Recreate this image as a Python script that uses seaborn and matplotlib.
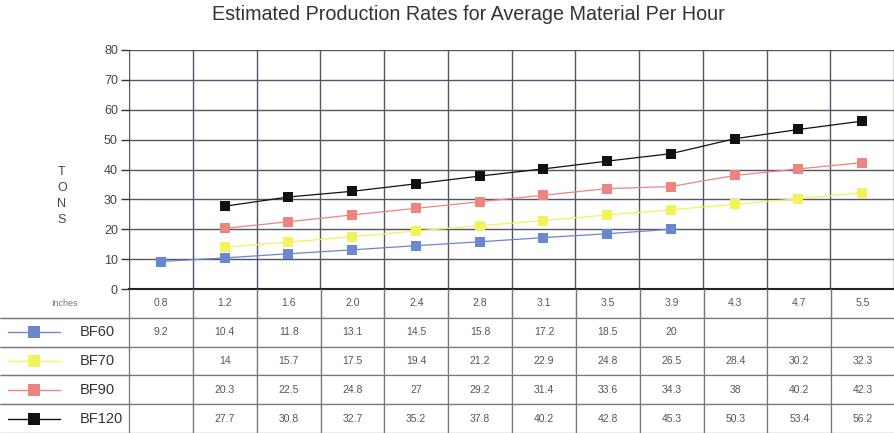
import numpy as np
import pandas as pd
import matplotlib
matplotlib.use('Agg')
import matplotlib.pyplot as plt
import seaborn as sns

inches = ['0.8', '1.2', '1.6', '2.0', '2.4', '2.8', '3.1', '3.5', '3.9', '4.3', '4.7', '5.5']
bf60 = [9.2, 10.4, 11.8, 13.1, 14.5, 15.8, 17.2, 18.5, 20, None, None, None]
bf70 = [None, 14, 15.7, 17.5, 19.4, 21.2, 22.9, 24.8, 26.5, 28.4, 30.2, 32.3]
bf90 = [None, 20.3, 22.5, 24.8, 27, 29.2, 31.4, 33.6, 34.3, 38, 40.2, 42.3]
bf120 = [None, 27.7, 30.8, 32.7, 35.2, 37.8, 40.2, 42.8, 45.3, 50.3, 53.4, 56.2]

series_names = ['BF60', 'BF70', 'BF90', 'BF120']
series_vals = [bf60, bf70, bf90, bf120]
colors = ['#6a86cf', '#f2f25a', '#ec8580', '#111111']

sns.set_style('white')
plt.rcParams['font.family'] = ['Liberation Sans', 'DejaVu Sans']

rows = []
for name, vals in zip(series_names, series_vals):
    for i, v in enumerate(vals):
        if v is not None:
            rows.append({'pos': i, 'tons': v, 'series': name})
df = pd.DataFrame(rows)

fig = plt.figure(figsize=(8.95, 4.33), dpi=100)
left = 129 / 895
bottom = (433 - 289) / 433
top = (433 - 50) / 433
ax = fig.add_axes([left, bottom, 1 - left - 0.001, top - bottom])

sns.lineplot(data=df, x='pos', y='tons', hue='series', hue_order=series_names,
             palette=colors, marker='s', markersize=7, markeredgewidth=0,
             linewidth=0.9, legend=False, ax=ax)

n = len(inches)
ax.set_xlim(-0.5, n - 0.5)
ax.set_ylim(0, 80)
ax.set_yticks(range(0, 81, 10))
ax.set_xticks([])
for b in np.arange(-0.5, n, 1.0):
    ax.axvline(b, color='#555566', lw=1.0, zorder=0)
for yv in range(10, 81, 10):
    ax.axhline(yv, color='#555566', lw=1.0, zorder=0)
ax.tick_params(axis='y', length=6, width=1, color='#333333', labelsize=9,
               labelcolor='#444444', pad=2, direction='out', left=True)
for s in ['top', 'right', 'left']:
    ax.spines[s].set_visible(False)
ax.spines['bottom'].set_color('#222222')
ax.spines['bottom'].set_linewidth(1.5)
ax.set_xlabel('')
ax.set_ylabel('')

fig.text(62 / 895, 1 - 196 / 433, 'T\nO\nN\nS', ha='center', va='center',
         fontsize=9, color='#444444', linespacing=1.45)

fig.text(468 / 895, 1 - 15 / 433,
         'Estimated Production Rates for Average Material Per Hour',
         ha='center', va='center', fontsize=14.2, color='#333333')

# data table below the chart
tax = fig.add_axes([0, 0, 1, bottom])
tax.axis('off')
cell_text = [inches]
for vals in series_vals:
    cell_text.append(['' if v is None else ('%g' % v) for v in vals])
first_col = ['Inches', '', '', '', '']
full_text = [[first_col[r]] + cell_text[r] for r in range(len(first_col))]
col_w = [129 / 895] + [(1 - 129 / 895) / n] * n
tbl = tax.table(cellText=full_text, colWidths=col_w, bbox=[0, 0, 1, 1],
                cellLoc='center')
tbl.auto_set_font_size(False)
for (r, c), cell in tbl.get_celld().items():
    cell.set_edgecolor('#777777')
    cell.set_linewidth(0.9)
    cell.get_text().set_color('#555555')
    cell.get_text().set_fontsize(7.5)
    if c == 0:
        if r == 0:
            cell.get_text().set_fontsize(6.5)
            cell.get_text().set_color('#777777')
            cell.visible_edges = 'B'
        else:
            cell.visible_edges = 'BT'
    if r == 0 and c > 0:
        cell.visible_edges = 'LRB'

# legend glyphs and series names in the first column
row_h = 1 / 5
for k, (nm, col) in enumerate(zip(series_names, colors)):
    yc = 1 - row_h * (k + 1.5)
    tax.plot([8 / 895, 60 / 895], [yc, yc], color=col, lw=1.0,
             transform=tax.transAxes, clip_on=False)
    tax.plot([34 / 895], [yc], marker='s', color=col, markersize=9,
             markeredgewidth=0, transform=tax.transAxes, clip_on=False)
    tax.text(80 / 895, yc, nm, transform=tax.transAxes, ha='left', va='center',
             fontsize=10.5, color='#333333')

fig.savefig('out.png', dpi=100, facecolor='white')
